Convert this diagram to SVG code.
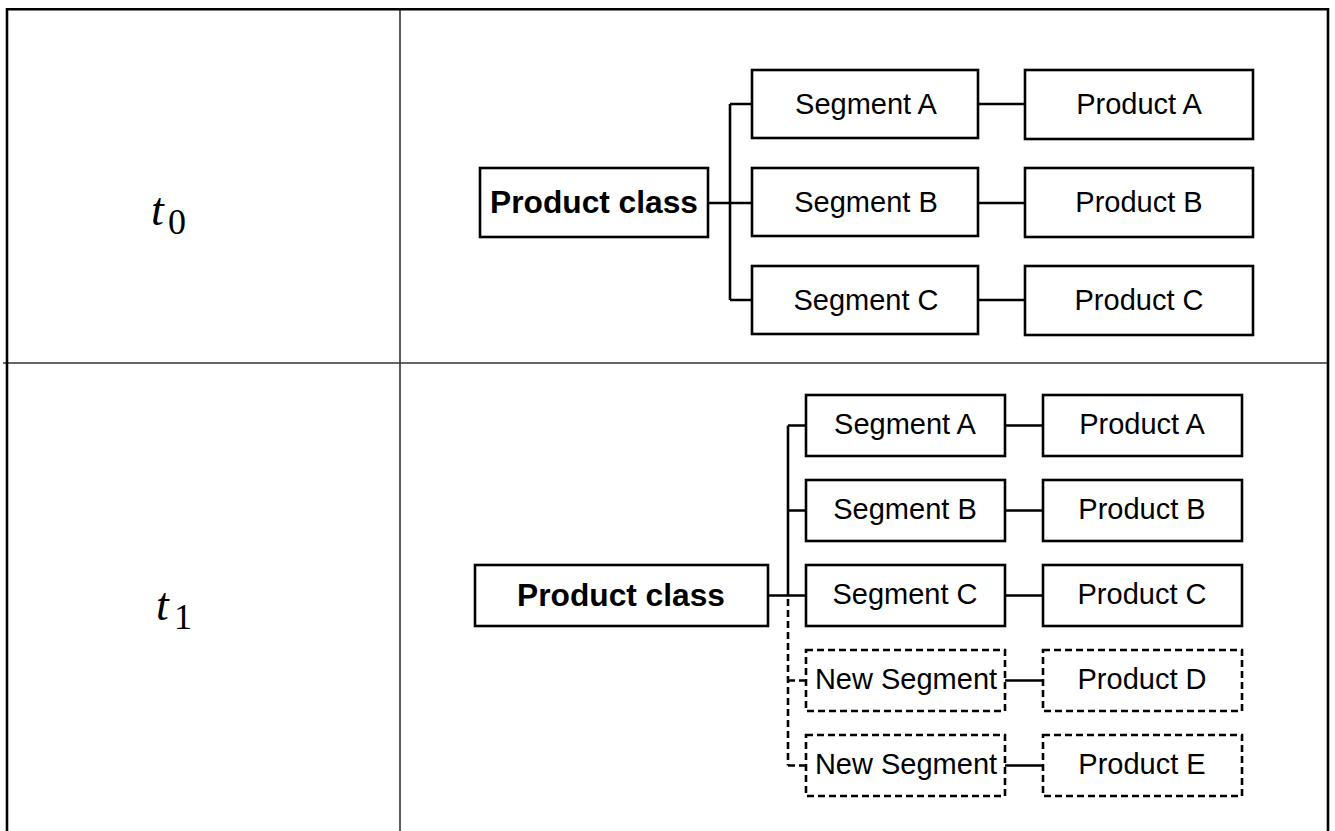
<svg xmlns="http://www.w3.org/2000/svg" width="1335" height="831" viewBox="0 0 1335 831">
<style>
.box{fill:#fff;stroke:#000;stroke-width:2.6}
.dbox{fill:#fff;stroke:#000;stroke-width:2.6;stroke-dasharray:7,4}
.t{font-family:"Liberation Sans",Arial,sans-serif;font-size:29px;text-anchor:middle;fill:#000}
.tb{font-family:"Liberation Sans",Arial,sans-serif;font-size:31.7px;font-weight:bold;text-anchor:middle;fill:#000}
.m{font-family:"Liberation Serif","DejaVu Serif",serif;fill:#000}
.c{fill:none;stroke:#000;stroke-width:2.6}
.dc{fill:none;stroke:#000;stroke-width:2.6;stroke-dasharray:7,4}
</style>
<rect width="1335" height="831" fill="#fff"/>
<g id="table">
<line x1="400" y1="9" x2="400" y2="831" stroke="#333" stroke-width="1.6"/>
<line x1="3" y1="363" x2="1328" y2="363" stroke="#333" stroke-width="1.6"/>
<polyline points="7,831 7,9.3 1328,9.3 1328,831" fill="none" stroke="#000" stroke-width="2.6"/>
</g>
<g id="label-t0"><text class="m" x="151" y="225" font-size="46" font-style="italic">t</text><text class="m" x="168" y="234" font-size="36">0</text></g>
<g id="label-t1"><text class="m" x="156" y="620" font-size="46" font-style="italic">t</text><text class="m" x="174" y="629" font-size="36">1</text></g>
<g id="connectors">
<path class="c" d="M708,203 H730 M730,104 V300 M730,104 H752 M730,203 H752 M730,300 H752 M978,104 H1025 M978,203 H1025 M978,300 H1025"/>
<path class="c" d="M768,595.5 H806 M788,425.5 V595.5 M788,425.5 H806 M788,510.5 H806 M1005,425.5 H1043 M1005,510.5 H1043 M1005,595.5 H1043 M1005,680.5 H1043 M1005,765.5 H1043"/>
<path class="dc" d="M788,599 V765.5 M788,680.5 H806 M788,765.5 H806"/>
</g>
<g id="t0-product-class"><rect class="box" x="480" y="168" width="228" height="69"/><text class="tb" x="594" y="213">Product class</text></g>
<g id="t0-segment-a"><rect class="box" x="752" y="70" width="226" height="68"/><text class="t" x="866" y="114">Segment A</text></g>
<g id="t0-segment-b"><rect class="box" x="752" y="168" width="226" height="68"/><text class="t" x="866" y="212">Segment B</text></g>
<g id="t0-segment-c"><rect class="box" x="752" y="266" width="226" height="68"/><text class="t" x="866" y="310">Segment C</text></g>
<g id="t0-product-a"><rect class="box" x="1025" y="70" width="228" height="69"/><text class="t" x="1139" y="114">Product A</text></g>
<g id="t0-product-b"><rect class="box" x="1025" y="168" width="228" height="69"/><text class="t" x="1139" y="212">Product B</text></g>
<g id="t0-product-c"><rect class="box" x="1025" y="266" width="228" height="69"/><text class="t" x="1139" y="310">Product C</text></g>
<g id="t1-product-class"><rect class="box" x="475" y="565" width="293" height="61"/><text class="tb" x="621" y="606">Product class</text></g>
<g id="t1-segment-a"><rect class="box" x="806" y="395" width="199" height="61"/><text class="t" x="905" y="434">Segment A</text></g>
<g id="t1-segment-b"><rect class="box" x="806" y="480" width="199" height="61"/><text class="t" x="905" y="519">Segment B</text></g>
<g id="t1-segment-c"><rect class="box" x="806" y="565" width="199" height="61"/><text class="t" x="905" y="604">Segment C</text></g>
<g id="t1-new-segment-1"><rect class="dbox" x="806" y="650" width="199" height="61"/><text class="t" x="906" y="689">New Segment</text></g>
<g id="t1-new-segment-2"><rect class="dbox" x="806" y="735" width="199" height="61"/><text class="t" x="906" y="774">New Segment</text></g>
<g id="t1-product-a"><rect class="box" x="1043" y="395" width="199" height="61"/><text class="t" x="1142" y="434">Product A</text></g>
<g id="t1-product-b"><rect class="box" x="1043" y="480" width="199" height="61"/><text class="t" x="1142" y="519">Product B</text></g>
<g id="t1-product-c"><rect class="box" x="1043" y="565" width="199" height="61"/><text class="t" x="1142" y="604">Product C</text></g>
<g id="t1-product-d"><rect class="dbox" x="1043" y="650" width="199" height="61"/><text class="t" x="1142" y="689">Product D</text></g>
<g id="t1-product-e"><rect class="dbox" x="1043" y="735" width="199" height="61"/><text class="t" x="1142" y="774">Product E</text></g>
</svg>
